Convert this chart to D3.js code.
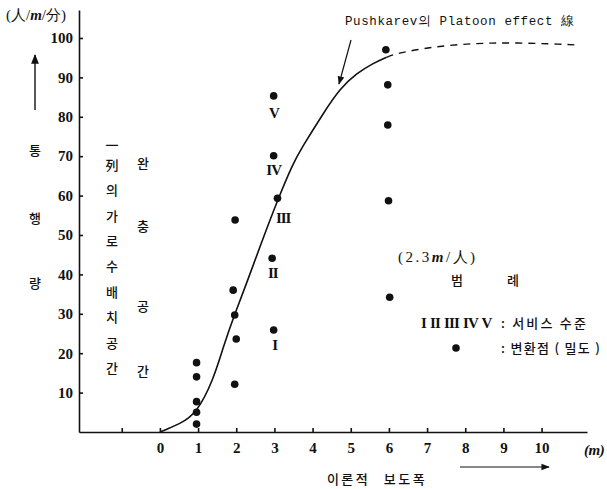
<!DOCTYPE html>
<html>
<head>
<meta charset="utf-8">
<script src="https://cdn.jsdelivr.net/npm/d3@7"></script>
<style>
  body { margin: 0; background: #fff; }
  svg { display: block; }
  .num { font-family: "Liberation Serif", serif; font-size: 15px; fill: #111; }
  .kr { font-family: "Noto Sans CJK KR", sans-serif; font-size: 13px; font-weight: 500; fill: #111; }
  .mono { font-family: "Liberation Mono", monospace; font-size: 12.5px; fill: #111; }
</style>
</head>
<body>
<script>
const W = 607, H = 489;

// 눈금
const xTicks = [-1, 0, 1, 2, 3, 4, 5, 6, 7, 8, 9, 10];
const yTicks = [10, 20, 30, 40, 50, 60, 70, 80, 90, 100];

// 변환점 (보도폭 m, 통행량 人/m/分)
const dotW = [0.96, 0.96, 0.96, 0.96, 0.96, 1.97, 1.92, 1.96, 2.0, 1.96, 2.98, 2.98, 3.08, 2.94, 2.98, 5.92, 5.97, 5.97, 5.99, 6.02];
const dotQ = [17.6, 14.0, 7.7, 5.0, 2.0, 53.8, 36.0, 29.7, 23.6, 12.1, 85.3, 70.1, 59.3, 44.1, 25.9, 97.0, 88.1, 77.9, 58.7, 34.2];

// 서비스 수준 라벨
const levels = ["V", "IV", "III", "II", "I"];
const levelW = [2.99, 2.98, 3.23, 2.96, 3.01];
const levelQ = [81.0, 66.5, 54.3, 40.4, 22.1];

// Pushkarev 곡선 (실선)
const curveW = [0, 0.52, 0.96, 1.4, 1.66, 1.95, 2.27, 2.62, 3.1, 3.49, 3.71, 4.28, 4.72, 5.15, 5.59, 5.94];
const curveQ = [0, 2.0, 4.7, 13.2, 21.6, 29.7, 37.7, 47.0, 59.3, 68.2, 72.0, 80.9, 87.2, 91.0, 93.6, 95.1];
// 점선 부분
const dashW = [5.94, 6.2, 7.15, 8.3, 9.35, 10.56, 10.95];
const dashQ = [95.1, 96.1, 97.8, 98.7, 98.8, 98.4, 98.2];

// 세로 글자
const col1 = ["一", "列", "의", "가", "로", "수", "배", "치", "공", "간"];
const col1Y = [145, 165, 190, 216, 241, 266, 292, 317, 343, 368];
const col2 = ["완", "충", "공", "간"];
const col2Y = [163, 226, 306, 371];
const yTitle = ["통", "행", "량"];
const yTitleY = [150, 218, 283];

const svg = d3.select("body").append("svg")
  .attr("width", W)
  .attr("height", H);

const x = d3.scaleLinear().domain([-2.12, 11.19]).range([79, 587]);
const y = d3.scaleLinear().domain([0, 107.1]).range([432, 10]);

// x축
const xAxis = d3.axisBottom(x)
  .tickValues(xTicks)
  .tickSizeInner(-4)
  .tickSizeOuter(0)
  .tickPadding(10)
  .tickFormat(d => d < 0 ? "" : d);

svg.append("g")
  .attr("transform", "translate(0," + y(0) + ")")
  .call(xAxis)
  .call(g => g.selectAll("path, line").attr("stroke", "#111").attr("stroke-width", 1.6))
  .call(g => g.selectAll("text").attr("class", "num").attr("font-weight", "bold").attr("font-family", null).attr("font-size", null));

// y축
const yAxis = d3.axisLeft(y)
  .tickValues(yTicks)
  .tickSizeInner(-4)
  .tickSizeOuter(0)
  .tickPadding(6);

svg.append("g")
  .attr("transform", "translate(" + x(-2.12) + ",0)")
  .call(yAxis)
  .call(g => g.selectAll("path, line").attr("stroke", "#111").attr("stroke-width", 1.6))
  .call(g => g.selectAll("text").attr("class", "num").attr("font-weight", "bold").attr("font-family", null).attr("font-size", null));

// 곡선
const line = d3.line()
  .x(d => x(d[0]))
  .y(d => y(d[1]))
  .curve(d3.curveBasis);

svg.append("path")
  .attr("d", line(curveW.map((w, i) => [w, curveQ[i]])))
  .attr("fill", "none")
  .attr("stroke", "#111")
  .attr("stroke-width", 1.6);

svg.append("path")
  .attr("d", line(dashW.map((w, i) => [w, dashQ[i]])))
  .attr("fill", "none")
  .attr("stroke", "#111")
  .attr("stroke-width", 1.4)
  .attr("stroke-dasharray", "7,6");

// 점
svg.selectAll(".dot")
  .data(dotW.map((w, i) => [w, dotQ[i]]))
  .enter()
  .append("circle")
  .attr("class", "dot")
  .attr("cx", d => x(d[0]))
  .attr("cy", d => y(d[1]))
  .attr("r", 3.8)
  .attr("fill", "#111");

// 서비스 수준
svg.selectAll(".lvl")
  .data(levels)
  .enter()
  .append("text")
  .attr("class", "num")
  .attr("x", (d, i) => x(levelW[i]))
  .attr("y", (d, i) => y(levelQ[i]))
  .attr("text-anchor", "middle")
  .attr("dy", "0.35em")
  .attr("font-weight", "bold")
  .attr("letter-spacing", -1)
  .text(d => d);

// 세로 글자들
svg.selectAll(".c1")
  .data(col1)
  .enter()
  .append("text")
  .attr("class", "kr")
  .attr("x", 112)
  .attr("y", (d, i) => col1Y[i])
  .attr("text-anchor", "middle")
  .attr("dy", "0.35em")
  .text(d => d);

svg.selectAll(".c2")
  .data(col2)
  .enter()
  .append("text")
  .attr("class", "kr")
  .attr("x", 143)
  .attr("y", (d, i) => col2Y[i])
  .attr("text-anchor", "middle")
  .attr("dy", "0.35em")
  .text(d => d);

svg.selectAll(".yt")
  .data(yTitle)
  .enter()
  .append("text")
  .attr("class", "kr")
  .attr("x", 35)
  .attr("y", (d, i) => yTitleY[i])
  .attr("text-anchor", "middle")
  .attr("dy", "0.35em")
  .text(d => d);

// 단위
const unitY = svg.append("text")
  .attr("class", "num")
  .attr("x", 6)
  .attr("y", 20)
  .attr("font-size", 13);
unitY.append("tspan").text("(人/");
unitY.append("tspan").attr("font-style", "italic").attr("font-weight", "bold").text("m");
unitY.append("tspan").text("/分)");

svg.append("text")
  .attr("class", "num")
  .attr("x", 584)
  .attr("y", 455)
  .attr("font-size", 10)
  .attr("font-style", "italic")
  .attr("font-weight", "bold")
  .attr("letter-spacing", -0.5)
  .text("(m)");

// 화살표
svg.append("defs").append("marker")
  .attr("id", "ah")
  .attr("viewBox", "0 0 10 10")
  .attr("refX", 9)
  .attr("refY", 5)
  .attr("markerWidth", 7)
  .attr("markerHeight", 7)
  .attr("orient", "auto")
  .append("path")
  .attr("d", "M0,1 L10,5 L0,9 Z")
  .attr("fill", "#111");

svg.append("line")
  .attr("x1", 35).attr("y1", 110)
  .attr("x2", 35).attr("y2", 55)
  .attr("stroke", "#111").attr("stroke-width", 1.4)
  .attr("marker-end", "url(#ah)");

svg.append("line")
  .attr("x1", 460).attr("y1", 467)
  .attr("x2", 549).attr("y2", 467)
  .attr("stroke", "#111").attr("stroke-width", 1.2)
  .attr("marker-end", "url(#ah)");

svg.append("line")
  .attr("x1", 351).attr("y1", 40)
  .attr("x2", 339).attr("y2", 84)
  .attr("stroke", "#111").attr("stroke-width", 1.2)
  .attr("marker-end", "url(#ah)");

// 곡선 설명
svg.append("text")
  .attr("class", "mono")
  .attr("x", 345)
  .attr("y", 25)
  .attr("letter-spacing", 0.6)
  .text("Pushkarev의 Platoon effect 線");

// x축 제목
svg.append("text")
  .attr("class", "kr")
  .attr("x", 377)
  .attr("y", 484)
  .attr("text-anchor", "middle")
  .attr("letter-spacing", 2.5)
  .attr("word-spacing", 8)
  .text("이론적 보도폭");

// 범례
const p = svg.append("text")
  .attr("class", "num")
  .attr("x", 398)
  .attr("y", 262)
  .attr("letter-spacing", 2.5);
p.append("tspan").text("(2.3");
p.append("tspan").attr("font-style", "italic").attr("font-weight", "bold").text("m");
p.append("tspan").text("/人)");

svg.append("text").attr("class", "kr").attr("x", 457).attr("y", 280).attr("dy", "0.35em").attr("text-anchor", "middle").text("범");
svg.append("text").attr("class", "kr").attr("x", 513).attr("y", 280).attr("dy", "0.35em").attr("text-anchor", "middle").text("례");

svg.append("text")
  .attr("class", "num")
  .attr("x", 421)
  .attr("y", 323)
  .attr("dy", "0.35em")
  .attr("font-size", 14)
  .attr("font-weight", "bold")
  .attr("letter-spacing", -0.8)
  .attr("word-spacing", 1)
  .text("I II III IV V");

svg.append("text")
  .attr("class", "kr")
  .attr("x", 501)
  .attr("y", 323)
  .attr("dy", "0.35em")
  .attr("letter-spacing", 2.2)
  .text(": 서비스 수준");

svg.append("circle")
  .attr("cx", 456).attr("cy", 348).attr("r", 3.8).attr("fill", "#111");

svg.append("text")
  .attr("class", "kr")
  .attr("x", 501)
  .attr("y", 348)
  .attr("dy", "0.35em")
  .attr("letter-spacing", 1.3)
  .text(": 변환점 ( 밀도 )");
</script>
</body>
</html>
